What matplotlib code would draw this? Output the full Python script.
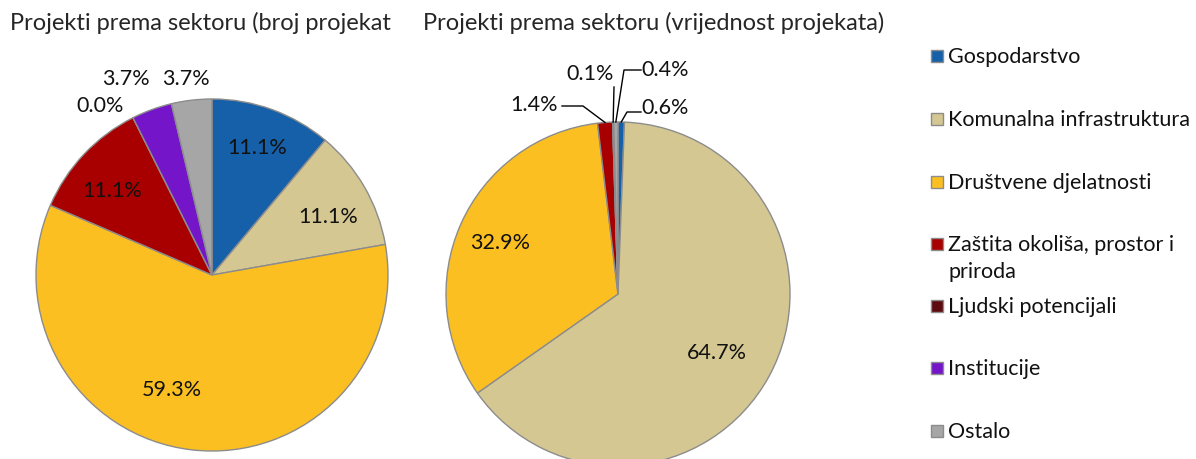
import matplotlib.pyplot as plt
import numpy as np
from matplotlib.patches import Rectangle

plt.rcParams['font.family'] = ['Lato', 'DejaVu Sans']

sectors = ['Gospodarstvo', 'Komunalna infrastruktura', 'Društvene djelatnosti',
           'Zaštita okoliša, prostor i\npriroda', 'Ljudski potencijali',
           'Institucije', 'Ostalo']
colors = ['#1560a8', '#d4c792', '#fbbf22', '#a80000', '#5e0b10', '#7415c9', '#a6a6a6']

# broj projekata
count_projects = [3, 3, 16, 3, 0, 1, 1]
# vrijednost projekata (%)
value_share = [0.6, 64.7, 32.9, 1.4, 0.0, 0.1, 0.4]

title_left = 'Projekti prema sektoru (broj projekat'
title_right = 'Projekti prema sektoru (vrijednost projekata)'

W, H = 1196, 460
fig = plt.figure(figsize=(W / 100, H / 100), dpi=100)
ax = fig.add_axes([0, 0, 1, 1])

def py(y):
    # pixel from top -> data y
    return H - y

edge = dict(edgecolor='#8c8c8c', linewidth=1.0)

c1, r1 = (212, py(276)), 176
c2, r2 = (618, py(295)), 172

w1, _ = ax.pie(count_projects, colors=colors, startangle=90, counterclock=False,
               center=c1, radius=r1, wedgeprops=edge)
w2, _ = ax.pie(value_share, colors=colors, startangle=90, counterclock=False,
               center=c2, radius=r2, wedgeprops=edge)

ax.set_xlim(0, W)
ax.set_ylim(0, H)
ax.set_aspect('equal')
ax.axis('off')

fs = 15.5
txt = '#111111'
pct1 = 100 * np.array(count_projects) / sum(count_projects)

# label positions (pixels from top)
pos1 = [(257, 148), (328, 217), (172, 390), (112, 191), (100, 106), (126, 79), (186, 79)]
for p, (x, y) in zip(pct1, pos1):
    ax.text(x, py(y), f'{p:.1f}%', ha='center', va='center', fontsize=fs, color=txt)

pos2 = [(665, 108), (717, 353), (500, 243), (534, 105), None, (590, 74), (665, 70)]
for p, xy in zip(value_share, pos2):
    if xy is None:
        continue
    ax.text(xy[0], py(xy[1]), f'{p:.1f}%', ha='center', va='center', fontsize=fs, color=txt)

# leader lines: start point, elbow point -> wedge edge
leaders = {0: [(641, 113), (627, 113)],
           3: [(562, 107), (583, 107)],
           5: [(614, 88)],
           6: [(641, 71), (624, 71)]}
for i, pts in leaders.items():
    w = w2[i]
    mid = np.deg2rad((w.theta1 + w.theta2) / 2)
    ex = c2[0] + r2 * np.cos(mid)
    ey = c2[1] + r2 * np.sin(mid)
    xs = [p[0] for p in pts] + [ex]
    ys = [py(p[1]) for p in pts] + [ey]
    ax.plot(xs, ys, color='black', linewidth=1.0)

fig.text(10 / W, 1 - 23 / H, title_left, ha='left', va='center', fontsize=17, color='#262626')
fig.text(423 / W, 1 - 23 / H, title_right, ha='left', va='center', fontsize=17, color='#262626')

# legend
leg_y = [57, 120, 183, 245, 307, 369, 432]
for name, col, y in zip(sectors, colors, leg_y):
    ax.add_patch(Rectangle((931, py(y) - 6), 12, 12, facecolor=col,
                           edgecolor='#8c8c8c', linewidth=1.0))
    lines = name.split('\n')
    for k, line in enumerate(lines):
        ax.text(948, py(y + 27 * k), line, ha='left', va='center', fontsize=fs, color=txt)

fig.savefig('out.png', dpi=100)
